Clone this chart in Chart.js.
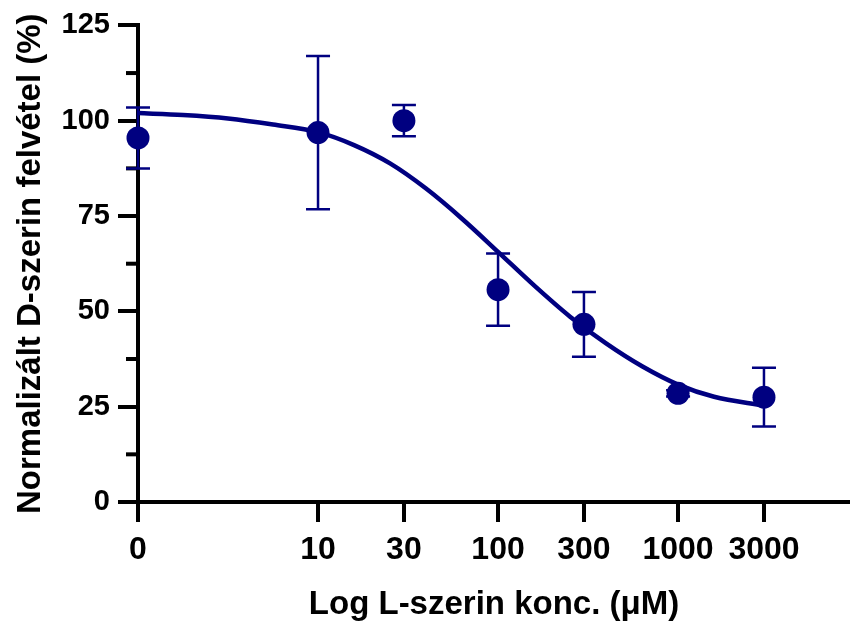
<!DOCTYPE html>
<html>
<head>
<meta charset="utf-8">
<script src="https://cdn.jsdelivr.net/npm/chart.js@4"></script>
<style>
  body { margin: 0; background: #fff; }
  #wrap { width: 850px; height: 630px; }
</style>
</head>
<body>
<div id="wrap"><canvas id="myChart" width="850" height="630"></canvas></div>
<script>
// L-szerin koncentráció (µM), 0 a log tengely elején
const concentrations = [0, 10, 30, 100, 300, 1000, 3000];
const meanUptake = [95.5, 96.9, 100.0, 55.7, 46.6, 28.5, 27.5];
const sdUptake = [8.0, 20.1, 4.1, 9.5, 8.5, 0.8, 7.7];

// illesztett görbe, leolvasva (log10 konc., %)
const fitLogConc = [0, 0.25, 0.5, 0.75, 1.0, 1.2, 1.4, 1.6, 1.8, 2.0, 2.2, 2.4, 2.6, 2.8, 3.0, 3.2, 3.477];
const fitUptake = [102.0, 101.5, 100.6, 99.0, 97.0, 93.6, 88.8, 82.2, 74.3, 65.6, 56.8, 48.6, 41.6, 35.6, 30.8, 27.6, 25.3];

const xTickLabels = ['0', '10', '30', '100', '300', '1000', '3000'];
const yTicks = [0, 25, 50, 75, 100, 125];

const navy = '#000080';
const fontFam = "'Liberation Sans', Arial, sans-serif";

function logPos(c) {
    return c <= 0 ? 0 : Math.log10(c);
}

const pointData = concentrations.map((c, i) => ({ x: logPos(c), y: meanUptake[i] }));
const curveData = fitLogConc.map((x, i) => ({ x: x, y: fitUptake[i] }));

const extras = {
    id: 'extras',
    beforeDatasetsDraw(chart) {
        const ctx = chart.ctx;
        const xs = chart.scales.x;
        const ys = chart.scales.y;

        // kisebb jelölők az y tengelyen
        ctx.save();
        ctx.strokeStyle = '#000';
        ctx.lineWidth = 4;
        ys.ticks.forEach(t => {
            if (t.value % 25 !== 0) {
                const py = ys.getPixelForValue(t.value);
                ctx.beginPath();
                ctx.moveTo(xs.left - 12, py);
                ctx.lineTo(xs.left, py);
                ctx.stroke();
            }
        });

        // hibasávok
        ctx.strokeStyle = navy;
        ctx.lineWidth = 2.5;
        pointData.forEach((p, i) => {
            const px = xs.getPixelForValue(p.x);
            const top = ys.getPixelForValue(p.y + sdUptake[i]);
            const bot = ys.getPixelForValue(p.y - sdUptake[i]);
            ctx.beginPath();
            ctx.moveTo(px, top);
            ctx.lineTo(px, bot);
            ctx.moveTo(px - 12, top);
            ctx.lineTo(px + 12, top);
            ctx.moveTo(px - 12, bot);
            ctx.lineTo(px + 12, bot);
            ctx.stroke();
        });
        ctx.restore();
    }
};

const ctx = document.getElementById('myChart').getContext('2d');
const myChart = new Chart(ctx, {
    type: 'scatter',
    data: {
        datasets: [{
            type: 'line',
            data: curveData,
            borderColor: navy,
            borderWidth: 4.5,
            pointRadius: 0,
            cubicInterpolationMode: 'monotone',
            fill: false,
            clip: false
        }, {
            data: pointData,
            backgroundColor: navy,
            borderColor: navy,
            pointRadius: 11.5,
            borderWidth: 0,
            clip: false
        }]
    },
    options: {
        responsive: false,
        animation: false,
        layout: { autoPadding: false, padding: { top: 22, right: 0, left: 0, bottom: 0 } },
        plugins: {
            legend: { display: false },
            tooltip: { enabled: false }
        },
        scales: {
            x: {
                type: 'linear',
                min: 0,
                max: 3.955,
                afterFit(scale) {
                    scale.height = 128;
                    scale.paddingLeft = 0;
                    scale.paddingRight = 0;
                },
                afterBuildTicks(scale) {
                    scale.ticks = concentrations.map(c => ({ value: logPos(c) }));
                },
                border: { display: true, color: '#000', width: 4 },
                grid: { drawOnChartArea: false, drawTicks: true, tickLength: 20, color: '#000', lineWidth: 4 },
                ticks: {
                    autoSkip: false,
                    maxRotation: 0,
                    padding: 9,
                    color: '#000',
                    font: { family: fontFam, size: 32, weight: 'bold' },
                    callback: (v, i) => xTickLabels[i]
                },
                title: {
                    display: true,
                    text: 'Log L-szerin konc. (μM)',
                    color: '#000',
                    padding: { top: 0, bottom: 5 },
                    font: { family: fontFam, size: 33, weight: 'bold' }
                }
            },
            y: {
                min: 0,
                max: 125,
                afterFit(scale) { scale.width = 138; },
                afterBuildTicks(scale) {
                    const t = [];
                    for (let v = 0; v <= 125; v += 12.5) t.push({ value: v });
                    scale.ticks = t;
                },
                border: { display: true, color: '#000', width: 4 },
                grid: {
                    drawOnChartArea: false,
                    tickLength: 20,
                    lineWidth: 4,
                    color: c => (c.tick && c.tick.value % 25 !== 0) ? 'rgba(0,0,0,0)' : '#000'
                },
                ticks: {
                    padding: 8,
                    color: '#000',
                    font: { family: fontFam, size: 29, weight: 'bold' },
                    callback: v => yTicks.includes(v) ? String(v) : ''
                },
                title: {
                    display: true,
                    text: 'Normalizált D-szerin felvétel (%)',
                    color: '#000',
                    padding: { top: 11, bottom: 0 },
                    font: { family: fontFam, size: 33, weight: 'bold' }
                }
            }
        }
    },
    plugins: [extras]
});
</script>
</body>
</html>
